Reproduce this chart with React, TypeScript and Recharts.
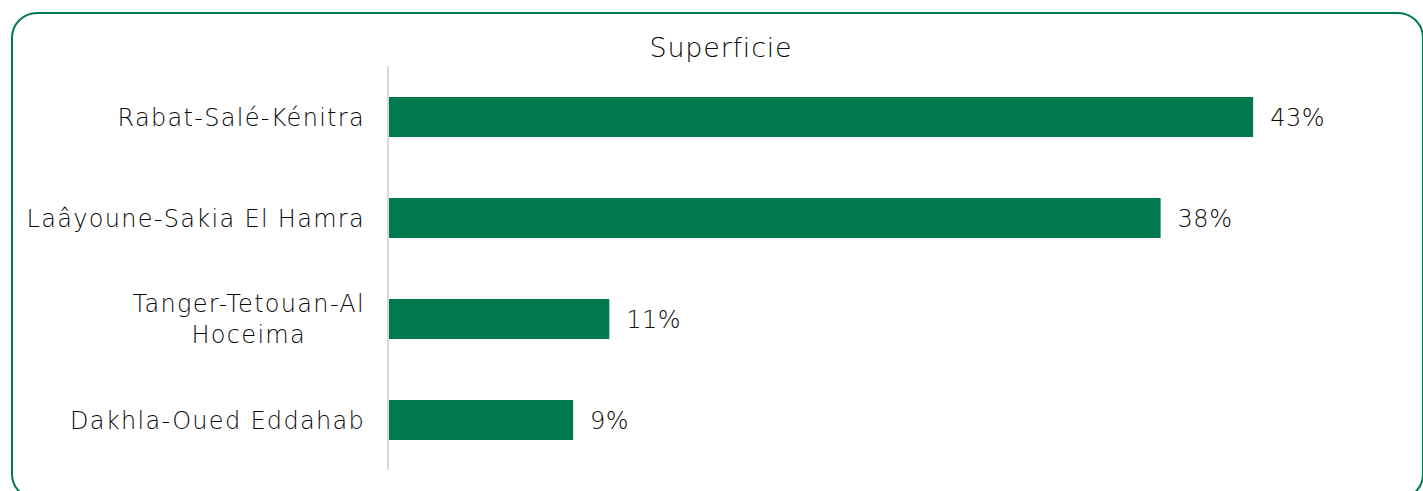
import React from 'react';
import { BarChart, Bar, XAxis, YAxis, LabelList } from 'recharts';

const regions = ['Rabat-Salé-Kénitra', 'Laâyoune-Sakia El Hamra', 'Tanger-Tetouan-Al Hoceima', 'Dakhla-Oued Eddahab'];
const shares = [43, 38.4, 11, 9.2];
const shareLabels = ['43%', '38%', '11%', '9%'];

const GREEN = '#007A4D';
const FONT = '"DejaVu Sans", sans-serif';
const TICK_SIZE = 24;
const TICK_SPACING = 1.3;

const data = regions.map((name, i) => ({ name, value: shares[i], label: shareLabels[i] }));

// split long region names on the last space that keeps the first line short
const wrap = (s: string) => {
  if (s.length <= 24) return [s];
  const cut = s.lastIndexOf(' ', 24);
  return [s.slice(0, cut), s.slice(cut + 1)];
};

let ctx: CanvasRenderingContext2D | null = null;
const measure = (s: string) => {
  if (!ctx) ctx = document.createElement('canvas').getContext('2d');
  if (!ctx) return s.length * TICK_SIZE * 0.6;
  ctx.font = `300 ${TICK_SIZE}px ${FONT}`;
  return ctx.measureText(s).width + s.length * TICK_SPACING;
};

const RegionTick = (props: any) => {
  const { x, y, payload } = props;
  const lines = wrap(payload.value);
  const lh = 31;
  const start = -((lines.length - 1) * lh) / 2;
  // wrapped labels are centred under their first line
  const cx = lines.length > 1 ? x - measure(lines[0]) / 2 : x;
  return (
    <text
      x={cx}
      y={y}
      textAnchor={lines.length > 1 ? 'middle' : 'end'}
      fill="#0a0a0a"
      fontSize={TICK_SIZE}
      fontFamily={FONT}
      fontWeight={300}
      letterSpacing={TICK_SPACING}
    >
      {lines.map((l, i) => (
        <tspan key={i} x={cx} dy={i === 0 ? start + 9 : lh}>
          {l}
        </tspan>
      ))}
    </text>
  );
};

const App = () => {
  return (
    <div style={{ position: 'absolute', left: 0, top: 0, width: 1423, height: 491, overflow: 'hidden', background: '#fff' }}>
      <div
        style={{
          position: 'absolute',
          left: 11,
          top: 12,
          width: 1409,
          height: 484,
          border: `2px solid ${GREEN}`,
          borderRadius: 26,
        }}
      />
      <div
        style={{
          position: 'absolute',
          left: 0,
          width: 1442,
          top: 32,
          textAlign: 'center',
          fontFamily: FONT,
          fontWeight: 300,
          fontSize: 27,
          letterSpacing: 0.8,
          color: '#0a0a0a',
        }}
      >
        Superficie
      </div>
      <div style={{ position: 'absolute', left: 0, top: 0 }}>
        <BarChart
          width={1423}
          height={491}
          data={data}
          layout="vertical"
          margin={{ top: 66, right: 29, left: 0, bottom: 21 }}
          barCategoryGap={0}
        >
          <XAxis type="number" domain={[0, 50]} hide />
          <YAxis
            type="category"
            dataKey="name"
            width={388}
            axisLine={{ stroke: '#d9d9d9', strokeWidth: 2 }}
            tickLine={false}
            tickSize={0}
            tickMargin={23}
            tick={<RegionTick />}
            interval={0}
          />
          <Bar dataKey="value" fill={GREEN} barSize={40} isAnimationActive={false}>
            <LabelList
              dataKey="label"
              position="right"
              offset={17}
              fill="#0a0a0a"
              fontSize={24}
              fontFamily={FONT}
              fontWeight={300}
              letterSpacing={0.5}
            />
          </Bar>
        </BarChart>
      </div>
    </div>
  );
};

export default App;
